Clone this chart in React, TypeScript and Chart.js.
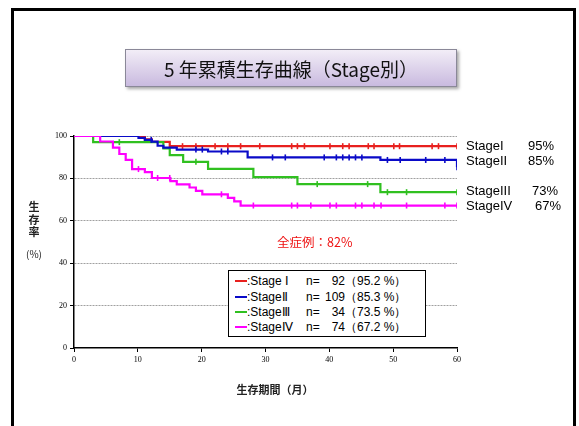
import React, { useEffect, useRef } from "react";
import { Chart, registerables } from "chart.js";

Chart.register(...registerables);

// ---- data ----
const xTicks = [0, 10, 20, 30, 40, 50, 60];
const yTicks = [0, 20, 40, 60, 80, 100];

const stageNames = ["StageⅠ", "StageⅡ", "StageⅢ", "StageⅣ"];
const stageN = [92, 109, 34, 74];
const stageRate = [95.2, 85.3, 73.5, 67.2];
const stageRounded = [95, 85, 73, 67];
const overallRate = 82;

const stage1Times = [0, 11.1, 12.2, 15.0, 60];
const stage1Surv = [100, 98.4, 97.2, 95.2, 95.2];
const stage1Censor = [17, 19.1, 22.1, 24.1, 26.1, 29.1, 34.1, 35, 36.1, 40.1, 42.1, 43.1, 46.1, 47, 50.1, 51, 56.1, 57.1, 60];

const stage2Times = [0, 10.1, 11.1, 12.2, 13.1, 14.0, 16.1, 21.0, 27.2, 48.0, 60];
const stage2Surv = [100, 99.1, 98.2, 97.3, 95.4, 94.5, 93.6, 92.7, 89.9, 88.7, 85.3];
const stage2Censor = [12.1, 19.1, 20.1, 23.1, 24.1, 31.1, 33.1, 39.2, 41.1, 42.1, 43.1, 44.1, 45.1, 49.1, 51.1, 55.1, 58.1, 60];

const stage3Times = [0, 3.0, 14.0, 15.0, 17.1, 21.0, 28.1, 35.0, 48.0, 60];
const stage3Surv = [100, 97.1, 94.1, 91.0, 87.8, 84.5, 80.6, 77.3, 73.5, 73.5];
const stage3Censor = [7.1, 19.1, 38.1, 46.0, 49.1, 52.1, 60];

const stage4Times = [0, 4.1, 6.1, 7.1, 8.1, 9.1, 11.1, 12.2, 15.1, 16.1, 18.1, 19.1, 20.1, 24.1, 25.1, 26.1, 60];
const stage4Surv = [100, 97.4, 94.5, 91.5, 88.7, 84.4, 83.0, 80.2, 78.7, 77.2, 75.7, 74.1, 72.5, 70.8, 69.2, 67.2, 67.2];
const stage4Censor = [10.1, 13.1, 15.0, 23.1, 28.1, 34.1, 35.0, 37.1, 40.1, 41.1, 44.1, 45.1, 47.0, 48.1, 52.1, 58.1, 60];

const colors = ["#e8201e", "#0a0ac8", "#30c020", "#ff00ff"];

// ---- helpers ----
function survAt(times: number[], surv: number[], t: number) {
  let v = surv[0];
  for (let i = 0; i < times.length; i++) if (times[i] <= t) v = surv[i];
  return v;
}

const series = [
  { times: stage1Times, surv: stage1Surv, censor: stage1Censor },
  { times: stage2Times, surv: stage2Surv, censor: stage2Censor },
  { times: stage3Times, surv: stage3Surv, censor: stage3Censor },
  { times: stage4Times, surv: stage4Surv, censor: stage4Censor },
];

// draw order: magenta on top, then blue, green, red
const drawOrder = [4, 2, 3, 1];

export default function App() {
  const ref = useRef<HTMLCanvasElement | null>(null);

  useEffect(() => {
    if (!ref.current) return;
    const datasets: any[] = [];
    series.forEach((s, i) => {
      datasets.push({
        type: "line",
        data: s.times.map((t, k) => ({ x: t, y: s.surv[k] })),
        borderColor: colors[i],
        borderWidth: 2.2,
        stepped: true,
        pointRadius: 0,
        fill: false,
        order: drawOrder[i],
      });
      datasets.push({
        type: "scatter",
        data: s.censor.map((t) => ({ x: t, y: survAt(s.times, s.surv, t) })),
        borderColor: colors[i],
        backgroundColor: colors[i],
        pointStyle: "line",
        rotation: 90,
        pointRadius: 3,
        borderWidth: 1.6,
        showLine: false,
        order: drawOrder[i],
      });
    });

    const chart = new Chart(ref.current, {
      type: "line",
      data: { datasets },
      options: {
        animation: false,
        responsive: false,
        events: [],
        layout: { padding: { left: 0, right: 122, top: 136, bottom: 48 } },
        plugins: { legend: { display: false }, tooltip: { enabled: false } },
        scales: {
          x: {
            type: "linear",
            min: 0,
            max: 60,
            afterFit: (s: any) => {
              s.height = 30;
            },
            afterBuildTicks: (s: any) => {
              s.ticks = xTicks.map((v) => ({ value: v }));
            },
            ticks: {
              font: { family: "Liberation Serif", size: 8 },
              color: "#000",
              padding: 3,
              maxRotation: 0,
            },
            grid: { drawOnChartArea: false, drawTicks: true, tickLength: 4, tickColor: "#000", tickWidth: 1 },
            border: { color: "#000", width: 1.5 },
          },
          y: {
            type: "linear",
            min: 0,
            max: 100,
            afterFit: (s: any) => {
              s.width = 74;
            },
            afterBuildTicks: (s: any) => {
              s.ticks = yTicks.map((v) => ({ value: v }));
            },
            ticks: {
              font: { family: "Liberation Serif", size: 8 },
              color: "#000",
              padding: 3,
            },
            grid: {
              color: (c: any) => (c.tick && c.tick.value === 0 ? "rgba(0,0,0,0)" : "#a0a0a0"),
              lineWidth: 1,
              tickLength: 4,
              tickColor: "#000",
              tickWidth: 1,
            },
            border: { color: "#000", width: 1.5, dash: [2, 1] },
          },
        },
      },
    } as any);
    return () => chart.destroy();
  }, []);

  const abs = (o: any) => ({ position: "absolute", ...o } as React.CSSProperties);
  const sans = "'Liberation Sans', Arial, sans-serif";
  const cjk = "'Noto Sans CJK JP', sans-serif";
  const rightY = [145.5, 160.5, 191, 206];
  const rightPctX = [528, 528, 532, 535];
  const legendY = [281, 296.5, 312, 327];

  return (
    <div style={abs({ left: 0, top: 0, width: 579, height: 426, overflow: "hidden", background: "#fff" })}>
      <div style={abs({ left: 11, top: 8, width: 565, height: 440, border: "3px solid #000", boxSizing: "border-box" })} />
      <canvas ref={ref} width={579} height={426} style={abs({ left: 0, top: 0, width: 579, height: 426 })} />
      {/* title */}
      <div
        style={abs({
          left: 125,
          top: 49,
          width: 332,
          height: 38,
          boxSizing: "border-box",
          border: "1px solid #8a8898",
          background: "linear-gradient(to bottom, #f2edf7, #c9badf)",
          boxShadow: "2px 2px 3px rgba(0,0,0,0.35)",
          display: "flex",
          alignItems: "center",
          justifyContent: "center",
          fontFamily: cjk,
          fontSize: 19,
          color: "#111",
          whiteSpace: "nowrap",
        })}
      >
        5 年累積生存曲線（Stage別）
      </div>
      {/* y title */}
      {["生", "存", "率"].map((ch, i) => (
        <div key={ch} style={abs({ left: 26, top: 200 + i * 12.5, width: 16, textAlign: "center", fontFamily: cjk, fontSize: 11, lineHeight: "13px", fontWeight: 700, color: "#222" })}>
          {ch}
        </div>
      ))}
      <div style={abs({ left: 19, top: 247, width: 30, textAlign: "center", fontFamily: cjk, fontSize: 10, lineHeight: "13px", color: "#222" })}>(%)</div>
      {/* x title */}
      <div style={abs({ left: 215, top: 382, width: 120, textAlign: "center", fontFamily: cjk, fontSize: 11, lineHeight: "14px", fontWeight: 700, color: "#222" })}>
        生存期間（月）
      </div>
      {/* right labels */}
      {stageNames.map((nm, i) => (
        <React.Fragment key={nm}>
          <div style={abs({ left: 466, top: rightY[i] - 8, fontFamily: sans, fontSize: 13, lineHeight: "16px", color: "#000", whiteSpace: "nowrap" })}>
            {"Stage" + ["I", "II", "III", "IV"][i]}
          </div>
          <div style={abs({ left: rightPctX[i], top: rightY[i] - 8, fontFamily: sans, fontSize: 13, lineHeight: "16px", color: "#000" })}>
            {stageRounded[i]}%
          </div>
        </React.Fragment>
      ))}
      {/* overall */}
      <div style={abs({ left: 277, top: 234, fontFamily: cjk, fontSize: 12.5, lineHeight: "16px", color: "#ee1111", whiteSpace: "nowrap" })}>
        全症例：{overallRate}%
      </div>
      {/* legend box */}
      <div style={abs({ left: 228, top: 270, width: 198, height: 67, boxSizing: "border-box", border: "1px solid #000", background: "#fff" })} />
      {stageNames.map((nm, i) => (
        <React.Fragment key={"lg" + nm}>
          <div style={abs({ left: 235, top: legendY[i] - 1, width: 12, height: 2, background: colors[i] })} />
          <div style={abs({ left: 247, top: legendY[i] - 8, fontFamily: sans, fontSize: 12, lineHeight: "16px", color: "#000", whiteSpace: "nowrap" })}>
            :{nm.replace("Stage", "Stage" + (i === 0 ? " " : ""))}
          </div>
          <div style={abs({ left: 306, top: legendY[i] - 8, fontFamily: sans, fontSize: 12, lineHeight: "16px", color: "#000" })}>n=</div>
          <div style={abs({ left: 318, top: legendY[i] - 8, width: 27, textAlign: "right", fontFamily: sans, fontSize: 12, lineHeight: "16px", color: "#000" })}>
            {stageN[i]}
          </div>
          <div style={abs({ left: 345, top: legendY[i] - 8, fontFamily: sans, fontSize: 12, lineHeight: "16px", color: "#000", whiteSpace: "nowrap" })}>
            （{stageRate[i].toFixed(1)} %）
          </div>
        </React.Fragment>
      ))}
    </div>
  );
}
